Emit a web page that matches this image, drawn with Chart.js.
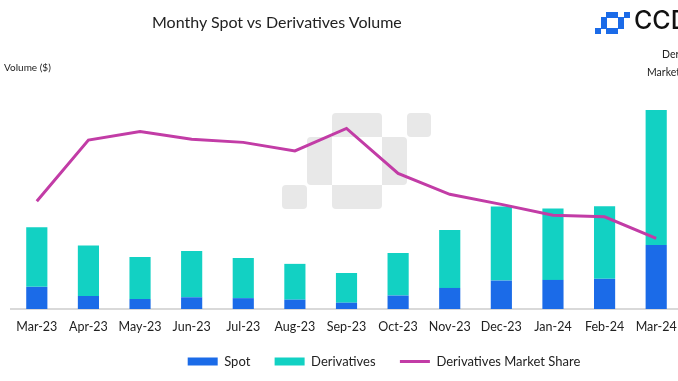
<!DOCTYPE html>
<html>
<head>
<meta charset="utf-8">
<script src="https://cdn.jsdelivr.net/npm/chart.js@4/dist/chart.umd.min.js"></script>
<style>
  html, body { margin: 0; padding: 0; background: #ffffff; }
  body { width: 678px; height: 381px; overflow: hidden; position: relative; font-family: Lato, "Open Sans", sans-serif; color: #222; }
  #wrap { position: absolute; left: 0; top: 0; width: 757px; height: 381px; z-index: 2; }
  .wm { position: absolute; background: #e8e8e8; border-radius: 4px; z-index: 1; }
  .ic { position: absolute; background: #1b6be8; z-index: 3; }
  .txt { position: absolute; white-space: nowrap; z-index: 3; }
</style>
</head>
<body>
<!-- watermark -->
<div class="wm" style="left:332px;top:113px;width:50px;height:24px;border-radius:4px 4px 0 0;"></div>
<div class="wm" style="left:407px;top:113px;width:24px;height:24px;"></div>
<div class="wm" style="left:307px;top:137px;width:25px;height:48px;border-radius:4px 0 0 4px;"></div>
<div class="wm" style="left:382px;top:137px;width:25px;height:48px;border-radius:0 4px 4px 0;"></div>
<div class="wm" style="left:282px;top:185px;width:25px;height:24px;"></div>
<div class="wm" style="left:332px;top:185px;width:50px;height:24px;border-radius:0 0 4px 4px;"></div>
<!-- logo icon -->
<div class="ic" style="left:606px;top:12px;width:12px;height:6px;"></div>
<div class="ic" style="left:624px;top:12px;width:6px;height:6px;"></div>
<div class="ic" style="left:601px;top:17px;width:6px;height:12px;"></div>
<div class="ic" style="left:618px;top:17px;width:6px;height:12px;"></div>
<div class="ic" style="left:595px;top:28px;width:6px;height:6px;"></div>
<div class="ic" style="left:606px;top:28px;width:12px;height:6px;"></div>
<div class="txt" style="left:634px;top:5px;font-family:Inter, sans-serif;font-size:25px;font-weight:500;color:#111;">CCDATA</div>
<!-- titles -->
<div class="txt" id="title" style="left:0;top:12px;font-size:16px;color:#222;">Monthy Spot vs Derivatives Volume</div>
<div class="txt" style="left:4px;top:61px;font-size:10px;color:#222;">Volume ($)</div>
<div class="txt" style="left:662px;top:48px;font-size:10.5px;color:#222;">Derivatives</div>
<div class="txt" style="left:647px;top:66px;font-size:10.5px;color:#222;">Market Share</div>
<div id="wrap"><canvas id="c"></canvas></div>
<script>
// Data (volumes in $ trillions, share in %)
const categories = ["Mar-23","Apr-23","May-23","Jun-23","Jul-23","Aug-23","Sep-23","Oct-23","Nov-23","Dec-23","Jan-24","Feb-24","Mar-24"];
const spotVolume = [1.02, 0.60, 0.46, 0.54, 0.50, 0.43, 0.29, 0.62, 0.97, 1.31, 1.34, 1.39, 2.95];
const derivativesVolume = [2.75, 2.33, 1.94, 2.13, 1.85, 1.65, 1.37, 1.96, 2.67, 3.41, 3.29, 3.35, 6.22];
const derivativesShare = [73.9, 81.8, 82.9, 81.9, 81.5, 80.4, 83.3, 77.5, 74.8, 73.5, 72.1, 71.9, 69.1];

// center title at x=277
const t = document.getElementById('title');
t.style.left = (277 - t.offsetWidth / 2) + 'px';

const FONT = "Lato, 'Open Sans', sans-serif";
const legendOrder = {'Spot': 0, 'Derivatives': 1, 'Derivatives Market Share': 2};
new Chart(document.getElementById('c'), {
  data: {
    labels: categories,
    datasets: [
      { type: 'line', label: 'Derivatives Market Share', data: derivativesShare, yAxisID: 'y1',
        borderColor: '#c23ca6', backgroundColor: '#c23ca6', borderWidth: 3, pointRadius: 0,
        pointStyle: 'line', tension: 0, order: 0 },
      { type: 'bar', label: 'Spot', data: spotVolume, yAxisID: 'y', stack: 's',
        backgroundColor: '#1b6be8', pointStyle: 'rect', order: 1,
        barPercentage: 0.41, categoryPercentage: 1 },
      { type: 'bar', label: 'Derivatives', data: derivativesVolume, yAxisID: 'y', stack: 's',
        backgroundColor: '#12d1c3', pointStyle: 'rect', order: 1,
        barPercentage: 0.41, categoryPercentage: 1 }
    ]
  },
  options: {
    responsive: true,
    maintainAspectRatio: false,
    animation: false,
    layout: { padding: { left: 11, right: 0, top: 92, bottom: 3 } },
    plugins: {
      tooltip: { enabled: false },
      title: { display: false },
      legend: {
        position: 'bottom',
        align: 'center',
        labels: {
          usePointStyle: true,
          pointStyleWidth: 30,
          boxHeight: 8,
          padding: 11,
          color: '#222',
          font: { family: FONT, size: 13 },
          generateLabels: (chart) => {
            const items = Chart.defaults.plugins.legend.labels.generateLabels(chart);
            items.forEach(it => { if (it.text !== 'Derivatives Market Share') it.text = it.text + '    '; });
            return items;
          },
          sort: (a, b) => legendOrder[a.text.trim()] - legendOrder[b.text.trim()]
        }
      }
    },
    scales: {
      x: {
        stacked: true,
        grid: { display: false, drawTicks: false },
        border: { display: true, color: '#d9d9d9', width: 2 },
        ticks: { color: '#222', font: { family: FONT, size: 12.5 }, padding: 10, maxRotation: 0, autoSkip: false }
      },
      y: { stacked: true, display: false, min: 0, max: 10 },
      y1: {
        display: true, position: 'right', min: 60, max: 88,
        grid: { display: false, drawTicks: false },
        border: { display: false },
        ticks: { display: false },
        afterFit: (scale) => { scale.width = 75; }
      }
    }
  }
});
</script>
</body>
</html>
